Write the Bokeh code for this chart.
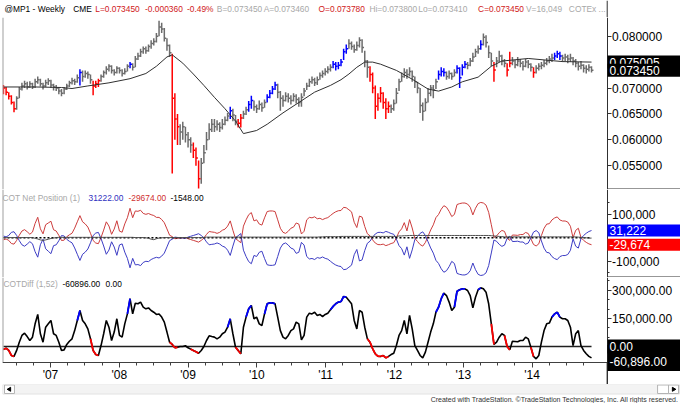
import numpy as np
from bokeh.plotting import figure
from bokeh.layouts import column
from bokeh.models import (Range1d, FixedTicker, NumeralTickFormatter, Label,
                          ColumnDataSource, CustomJSTickFormatter, LinearAxis)
from bokeh.embed import file_html
from bokeh.resources import INLINE
from bokeh.core.properties import value

FONT = "Liberation Sans"

# ---------------- data (bi-weekly samples, May 2006 .. Nov 2014) ----------------
# Mexican peso futures (@MP1), prices in units of 1e-5 USD
close_e5 = [
    7000, 6920, 6840, 6720, 6600, 6800, 6980, 7040, 7080, 7020,
    7080, 7020, 7120, 7160, 7080, 7040, 7100, 7140, 7060, 7020,
    7000, 6940, 6900, 6980, 7040, 7100, 7140, 7120, 7200, 7300,
    7220, 7280, 7260, 7160, 7040, 7080, 7140, 7220, 7300, 7360,
    7420, 7340, 7300, 7380, 7340, 7280, 7320, 7420, 7460, 7400,
    7560, 7620, 7700, 7760, 7720, 7800, 7860, 7900, 8000, 8180,
    8140, 7960, 7820, 7680, 6800, 6400, 6250, 6150, 6250, 6100,
    6000, 5900, 5800, 5650, 5250, 5550, 5750, 6000, 6200, 6300,
    6250, 6300, 6240, 6300, 6380, 6460, 6560, 6480, 6360, 6320,
    6420, 6500, 6580, 6680, 6760, 6640, 6600, 6680, 6620, 6720,
    6820, 6900, 6980, 7060, 6920, 6800, 6760, 6840, 6800, 6760,
    6840, 6780, 6720, 6820, 6940, 7040, 7120, 7160, 7100, 7160,
    7240, 7280, 7320, 7360, 7400, 7460, 7420, 7440, 7500, 7700,
    7760, 7860, 7800, 7740, 7820, 7920, 7780, 7520, 7400, 7260,
    7000, 6650, 6800, 6900, 6720, 6600, 6650, 6600, 6700, 6900,
    7120, 7220, 7300, 7260, 7320, 7220, 7120, 7000, 6660, 6550,
    6720, 6900, 7000, 6960, 7120, 7260, 7320, 7300, 7220, 7280,
    7220, 7300, 7380, 7200, 7400, 7460, 7440, 7520, 7600, 7700,
    7760, 7840, 7980, 7880, 7680, 7520, 7350, 7520, 7620, 7520,
    7480, 7350, 7480, 7520, 7450, 7520, 7480, 7420, 7500, 7460,
    7400, 7300, 7380, 7420, 7440, 7480, 7520, 7560, 7580, 7620,
    7660, 7620, 7580, 7600, 7560, 7580, 7520, 7480, 7420, 7440,
    7380, 7360, 7400, 7345,
]
high_e5 = [
    7060, 7020, 6920, 6860, 6740, 6840, 7020, 7100, 7140, 7120,
    7130, 7100, 7180, 7220, 7180, 7100, 7160, 7190, 7160, 7080,
    7060, 7020, 6980, 7020, 7080, 7140, 7200, 7180, 7260, 7360,
    7340, 7340, 7320, 7260, 7140, 7140, 7180, 7260, 7340, 7420,
    7460, 7440, 7360, 7420, 7400, 7360, 7380, 7460, 7500, 7480,
    7620, 7680, 7760, 7800, 7800, 7840, 7920, 7960, 8060, 8300,
    8260, 8160, 7960, 7840, 7660, 6900, 6500, 6300, 6350, 6250,
    6150, 6050, 5950, 5850, 5600, 5650, 5900, 6150, 6320, 6400,
    6400, 6380, 6340, 6400, 6450, 6520, 6640, 6600, 6480, 6400,
    6500, 6560, 6640, 6750, 6850, 6760, 6680, 6760, 6720, 6780,
    6880, 6960, 7040, 7120, 7080, 6940, 6860, 6920, 6900, 6860,
    6900, 6880, 6820, 6900, 7000, 7100, 7180, 7220, 7200, 7220,
    7300, 7340, 7380, 7420, 7460, 7520, 7500, 7500, 7560, 7760,
    7840, 7940, 7900, 7840, 7900, 7980, 7940, 7720, 7540, 7420,
    7300, 7050, 6900, 7020, 6920, 6800, 6740, 6680, 6780, 7000,
    7180, 7300, 7380, 7360, 7400, 7340, 7220, 7120, 7000, 6720,
    6800, 7000, 7060, 7060, 7180, 7340, 7400, 7380, 7320, 7340,
    7300, 7360, 7440, 7400, 7460, 7520, 7500, 7580, 7680, 7760,
    7820, 7920, 8050, 8020, 7820, 7680, 7500, 7600, 7720, 7640,
    7560, 7480, 7700, 7600, 7540, 7600, 7560, 7520, 7560, 7540,
    7480, 7400, 7440, 7480, 7500, 7540, 7580, 7620, 7660, 7680,
    7720, 7700, 7640, 7660, 7640, 7660, 7600, 7560, 7500, 7520,
    7460, 7440, 7460, 7420,
]
low_e5 = [
    6880, 6860, 6780, 6680, 6530, 6580, 6800, 6950, 7000, 6970,
    7000, 6980, 7000, 7080, 7030, 6970, 7020, 7060, 7000, 6950,
    6940, 6880, 6840, 6880, 6960, 7020, 7070, 7060, 7100, 7050,
    7120, 7200, 7180, 7080, 6860, 7000, 7020, 7120, 7200, 7260,
    7320, 7280, 7240, 7280, 7280, 7220, 7260, 7320, 7380, 7340,
    7400, 7540, 7600, 7660, 7660, 7700, 7760, 7820, 7880, 8000,
    8060, 7900, 7720, 7600, 5350, 6000, 5900, 5900, 6000, 5950,
    5850, 5750, 5650, 5500, 5060, 5150, 5550, 5800, 6000, 6150,
    6150, 6180, 6150, 6200, 6280, 6360, 6400, 6360, 6280, 6240,
    6240, 6400, 6480, 6540, 6600, 6560, 6520, 6580, 6540, 6620,
    6720, 6800, 6880, 6960, 6800, 6560, 6640, 6740, 6720, 6680,
    6740, 6700, 6640, 6640, 6840, 6960, 7020, 7080, 7040, 7060,
    7160, 7200, 7240, 7280, 7320, 7380, 7340, 7360, 7420, 7540,
    7660, 7760, 7740, 7680, 7720, 7780, 7680, 7400, 7200, 7120,
    6900, 6400, 6560, 6720, 6600, 6400, 6520, 6520, 6560, 6700,
    6940, 7120, 7200, 7180, 7220, 7120, 7000, 6900, 6520, 6370,
    6550, 6720, 6840, 6800, 6980, 7160, 7220, 7220, 7160, 7180,
    7160, 7220, 7280, 7000, 7240, 7380, 7360, 7420, 7500, 7600,
    7660, 7740, 7820, 7780, 7580, 7420, 7120, 7400, 7500, 7440,
    7400, 7220, 7400, 7440, 7380, 7420, 7400, 7340, 7400, 7380,
    7320, 7200, 7280, 7340, 7360, 7400, 7440, 7480, 7500, 7540,
    7580, 7540, 7500, 7520, 7480, 7500, 7440, 7400, 7340, 7360,
    7300, 7280, 7320, 7300,
]
# 52-week moving average, read at selected bars (bar index, value)
ma_idx = [0, 12, 22, 26, 32, 40, 48, 54, 58, 62, 64, 68, 72, 76, 80, 84, 88, 91,
          96, 100, 106, 112, 118, 124, 128, 131, 134, 137, 140, 143, 149, 155,
          161, 165, 170, 174, 180, 185, 189, 199, 212, 223]
ma_val = [0.0702, 0.0702, 0.0701, 0.0699, 0.0704, 0.0710, 0.0718, 0.0728, 0.0742,
          0.0760, 0.0764, 0.0748, 0.0727, 0.0705, 0.0682, 0.0660, 0.0636, 0.0612,
          0.0618, 0.0630, 0.0652, 0.0672, 0.0692, 0.0705, 0.0716, 0.0727, 0.0740,
          0.0750, 0.0750, 0.0746, 0.0734, 0.0717, 0.0698, 0.0694, 0.0702, 0.0712,
          0.0721, 0.0742, 0.0752, 0.0757, 0.0751, 0.075005]

# COTDiff (non-commercial net minus commercial net), thousands of contracts
cot_diff_k = [
    -16, -9, -21, -48, -53, -21, 23, 59, 71, 53,
    32, 50, 121, 171, 68, 23, 103, 121, 139, 68,
    59, 23, -21, -18, 11, 28, 41, 85, 139, 192,
    139, 121, 94, 41, -21, -43, -48, 5, 68, 139,
    103, 32, 77, 148, 59, 50, 121, 174, 255, 174,
    231, 228, 237, 210, 201, 206, 192, 183, 171, 174,
    157, 130, 77, 23, 11, -7, -4, 0, 0, 4,
    -7, -14, -21, -28, -36, -21, 0, 32, 57, 53,
    50, 41, 50, 68, 77, 103, 148, 68, -4, -21,
    -39, 103, 157, 201, 219, 148, 157, 121, 112, 174,
    228, 233, 233, 228, 157, 85, 50, 41, 59, 85,
    94, 130, 121, 36, 59, 157, 178, 174, 183, 166,
    171, 160, 171, 178, 196, 214, 228, 237, 240, 267,
    263, 246, 228, 139, 94, 192, 183, 103, 41, 23,
    -12, -39, -52, -53, -48, -61, -53, -43, -36, 5,
    59, 85, 139, 68, 166, 94, 5, -21, -48, -61,
    -30, 23, 77, 121, 183, 210, 255, 285, 272, 237,
    192, 210, 295, 303, 308, 308, 299, 272, 206, 263,
    303, 313, 308, 290, 228, 121, 11, 23, 50, 68,
    59, 0, -18, 28, 27, 25, 32, 32, 50, 41,
    -4, -53, -66, -48, 23, 85, 121, 125, 157, 174,
    183, 157, 148, 148, 139, 103, 5, 68, 85, 5,
    -21, -39, -53, -60.896,
]
# third COT group net position (small traders), thousands of contracts
small_net_k = [
    1, 1, 1, 1, 1, 1, 1, 1, 1, 1,
    1, 1, -2, -5, -9, -11, -9, -6, -3, -1,
    1, 2, 2, 2, 2, 2, 2, 2, 2, 2,
    2, 2, 2, 2, 2, 2, 2, 2, 2, 2,
    2, 2, 2, 2, 2, 2, 2, 2, 2, 2,
    1, 1, 1, 1, 0, -2, -6, -8, -4, -1,
    0, 1, 1, 1, 1, 1, 1, 1, 1, 1,
    1, 1, 1, 1, 1, 1, 2, 3, 3, 3,
    3, 3, 3, 3, 3, 3, 3, 3, 3, 3,
    3, 3, 3, 3, 3, 3, 3, 3, 3, 3,
    3, 3, 3, 3, 3, 3, 3, 3, 3, 3,
    3, 3, 3, 3, 3, 3, 3, 3, 3, 3,
    4, 4, 5, 5, 5, 5, 5, 5, 6, 6,
    6, 6, 6, 6, 6, 6, 6, 6, 6, 6,
    6, 6, 6, 6, 6, 6, 6, 6, 6, 6,
    8, 8, 9, 9, 10, 10, 10, 10, 10, 10,
    10, 10, 10, 10, 10, 10, 10, 10, 10, 10,
    10, 10, 10, 10, 10, 10, 10, 10, 10, 10,
    10, 10, 10, 10, 10, 9, 8, 7, 6, 5,
    4, 4, 4, 4, 4, 4, 4, 4, 4, 4,
    4, 4, 4, 4, 4, 4, 4, 4, 4, 4,
    4, 4, 4, 4, 4, 4, 4, 4, 3, 2,
    1, 0, -1, -1.548,
]
# COTEx signal bars: COTDiff at a 52-week high (blue) / low (red)
signal_hi = [29, 48, 86, 93, 94, 100, 101, 102, 103, 125, 126, 127, 128, 129, 130,
             165, 166, 167, 172, 173, 174, 175, 181, 209, 210, 211]
signal_lo = [0, 1, 2, 3, 4, 34, 35, 36, 64, 65, 66, 72, 73, 74, 89, 90,
             139, 140, 141, 142, 143, 144, 145, 146, 186, 191, 192, 201]
year_ticks = [2007, 2008, 2009, 2010, 2011, 2012, 2013, 2014]
price_ticks = [0.055, 0.060, 0.065, 0.070, 0.075, 0.080]
cot_ticks = [-100000, 100000]
diff_ticks = [0, 150000, 300000]

hdr_text = ["@MP1 - Weekly", "CME", "L=0.073450", "-0.000360", "-0.49%", "B=0.073450",
            "A=0.073460", "O=0.073780", "Hi=0.073800", "Lo=0.073410", "C=0.073450",
            "V=16,049", "COTEx ..."]

# ---------------- derived ----------------
n = len(close_e5)
xs = 2006.317 + np.arange(n) * (2 / 52.18)
close = np.array(close_e5) / 1e5
high = np.array(high_e5) / 1e5
low = np.array(low_e5) / 1e5
diff = np.array(cot_diff_k, dtype=float) * 1000
small = np.array(small_net_k, dtype=float) * 1000
comm = -(diff + small) / 2       # blue line
noncomm = (diff - small) / 2     # red line

GREY = "#6c6c6c"
BLUE = "#0000ff"
RED = "#ff0000"
colors = [GREY] * n
for i in signal_hi:
    colors[i] = BLUE
for i in signal_lo:
    colors[i] = RED

# ---------------- geometry ----------------
PX_YR = 68.8
X0 = 2006.303


def px2yr(px):
    return X0 + (px - 2) / PX_YR


x_range = Range1d(X0, px2yr(680))
AX = px2yr(606.6)          # location of the right value axis
BOX_X = px2yr(643.5)       # centre of the value boxes
TXT_X = px2yr(609)


def panel(h, yr):
    p = figure(width=680, height=h, x_range=x_range, y_range=yr,
               output_backend="svg", toolbar_location=None, title=None,
               x_axis_type=None, y_axis_type=None,
               min_border_left=2, min_border_right=0, min_border_top=0,
               min_border_bottom=0, background_fill_color="white",
               border_fill_color="white", outline_line_color=None)
    p.grid.visible = False
    return p


def right_axis(p, ticker, formatter):
    ax = LinearAxis(fixed_location=AX, ticker=ticker, formatter=formatter)
    ax.major_label_text_font = FONT
    ax.major_label_text_font_size = "12px"
    ax.major_label_text_color = "black"
    ax.major_tick_out = 4
    ax.major_tick_in = 0
    ax.minor_tick_out = 2
    ax.minor_tick_in = 0
    ax.major_label_standoff = 1
    ax.axis_line_color = "#303030"
    ax.major_tick_line_color = "#303030"
    ax.minor_tick_line_color = "#303030"
    p.add_layout(ax, "right")


def box(p, y, bg, h=13):
    p.rect(x=[BOX_X], y=[y], width=73, height=h, width_units="screen",
           height_units="screen", fill_color=bg, line_color=None, level="annotation")


def box_text(p, y, text, dy=0):
    p.text(x=[TXT_X], y=[y], text=[text], text_color="white", text_font=value(FONT),
           text_font_size="12px", text_baseline="middle", text_align="left",
           y_offset=dy, level="annotation")


def value_box(p, y, text, bg, h=13, dy=0):
    box(p, y, bg, h)
    box_text(p, y, text, dy)


def panel_label(p, x, y, text, color):
    p.add_layout(Label(x=x - 2, y=y, x_units="screen", y_units="screen", text=text,
                       text_color=color, text_font=FONT, text_font_size="8.4px",
                       text_baseline="middle"))


# ---------------- header ----------------
hdr_x = [2, 71, 93, 143, 185, 215, 262, 317, 368, 417, 477, 525, 568]
hdr_col = ["#000000", "#000000", "#d01818", "#d01818", "#d01818", "#a8a8a8", "#a8a8a8",
           "#d01818", "#a8a8a8", "#a8a8a8", "#d01818", "#a8a8a8", "#a8a8a8"]
hdr = figure(width=680, height=17, x_range=Range1d(0, 680), y_range=Range1d(0, 17),
             output_backend="svg", toolbar_location=None, title=None,
             x_axis_type=None, y_axis_type=None, min_border=0,
             outline_line_color=None, background_fill_color="white",
             border_fill_color="white")
hdr.grid.visible = False
hdr.text(x=hdr_x, y=[9] * len(hdr_x), text=hdr_text, text_color=hdr_col,
         text_font=value(FONT), text_font_size="8.4px", text_baseline="middle",
         text_align="left")
hdr.segment(x0=[606.5], y0=[0], x1=[606.5], y1=[17], line_color="#303030", line_width=1)

# ---------------- price panel ----------------
p1 = panel(172, Range1d(0.05041, 0.08361))
right_axis(p1, FixedTicker(ticks=price_ticks, minor_ticks=[]),
           NumeralTickFormatter(format="0.000000"))
src = ColumnDataSource(dict(x=xs, xc=xs + 0.028, hi=high, lo=low, c=close, color=colors))
p1.segment(x0="x", y0="lo", x1="x", y1="hi", line_color="color", line_width=1.5, source=src)
p1.segment(x0="x", y0="c", x1="xc", y1="c", line_color="color", line_width=1.5, source=src)
p1.line(xs[ma_idx], ma_val, line_color="#303030", line_width=1)
p1.segment(x0=[X0], y0=[0.05041], x1=[X0], y1=[0.08361], line_color="#a0a0a0", line_width=2)
p1.segment(x0=[AX], y0=[0.05041], x1=[px2yr(680)], y1=[0.05041], line_color="#303030",
           line_width=2)
value_box(p1, ma_val[-1], "0.075005", "black")
value_box(p1, close[-1], "0.073450", "black")

# ---------------- COT net position panel ----------------
p2 = panel(88, Range1d(-170000, 206900))
right_axis(p2, FixedTicker(ticks=cot_ticks, minor_ticks=[-150000, -50000, 50000, 150000]),
           NumeralTickFormatter(format="0,0"))
p2.line(xs, noncomm, line_color="#cc3c3c", line_width=1)
p2.line(xs, comm, line_color="#3c3cc4", line_width=1)
p2.line([xs[0], xs[-1]], [0, 0], line_color="#000000", line_width=1.5, line_dash="2 2")
p2.line(xs, small, line_color="#505050", line_width=1)
p2.segment(x0=[X0], y0=[-170000], x1=[X0], y1=[206900], line_color="#a0a0a0", line_width=2)
p2.segment(x0=[AX], y0=[-170000], x1=[px2yr(680)], y1=[-170000], line_color="#303030",
           line_width=2)
panel_label(p2, 2, 80, "COT Net Position (1)", "#a8a8a8")
panel_label(p2, 88, 80, "%.2f" % comm[-1], "#3030c0")
panel_label(p2, 128, 80, "%.2f" % noncomm[-1], "#d03030")
panel_label(p2, 170, 80, "%.2f" % small[-1], "#000000")
value_box(p2, comm[-1], "{:,.0f}".format(comm[-1]), BLUE, h=12)
value_box(p2, noncomm[-1], "{:,.0f}".format(noncomm[-1]), RED, h=12)

# ---------------- COTDiff panel (includes the date axis strip) ----------------
D_TOP, D_BOT, D_AXIS = 368400, -202900, -85400
p3 = panel(107, Range1d(D_BOT, D_TOP))
right_axis(p3, FixedTicker(ticks=diff_ticks,
                           minor_ticks=[50000, 100000, 200000, 250000, 350000]),
           NumeralTickFormatter(format="0,0.00"))
p3.line([xs[0], xs[-1]], [0, 0], line_color="#202020", line_width=1.6)
p3.line(xs, diff, line_color="#000000", line_width=1.6)
seg = [i for i in range(1, n) if colors[i] != GREY]
p3.segment(x0=xs[[i - 1 for i in seg]], y0=diff[[i - 1 for i in seg]],
           x1=xs[seg], y1=diff[seg], line_color=[colors[i] for i in seg], line_width=1.8)
p3.segment(x0=[X0], y0=[D_AXIS], x1=[X0], y1=[D_TOP], line_color="#a0a0a0", line_width=2)
p3.segment(x0=[AX], y0=[D_BOT], x1=[AX], y1=[D_AXIS], line_color="#303030", line_width=1)
panel_label(p3, 3, 101, "COTDiff (1,52)", "#a8a8a8")
panel_label(p3, 62, 101, "%.2f" % diff[-1], "#000000")
panel_label(p3, 105, 101, "0.00", "#000000")
box(p3, diff[-1], "black", h=26)
box(p3, 0, "black", h=14)
box_text(p3, 0, "0.00")
box_text(p3, diff[-1], "{:,.2f}".format(diff[-1]), dy=4)

quarters = [y + q / 4.0 for y in range(2006, 2016) for q in (1, 2, 3)]
xa = LinearAxis(fixed_location=D_AXIS, bounds=(X0, AX),
                ticker=FixedTicker(ticks=year_ticks, minor_ticks=quarters),
                formatter=CustomJSTickFormatter(
                    code="var y = Math.round(tick) % 100; return \"'\" + (y < 10 ? '0' + y : '' + y);"))
xa.major_label_text_font = FONT
xa.major_label_text_font_size = "12px"
xa.major_label_text_color = "black"
xa.major_tick_out = 5
xa.major_tick_in = 0
xa.minor_tick_out = 3
xa.minor_tick_in = 0
xa.major_label_standoff = 1
xa.axis_line_color = "#404040"
xa.major_tick_line_color = "#404040"
xa.minor_tick_line_color = "#404040"
p3.add_layout(xa, "below")

# ---------------- footer ----------------
ftr = figure(width=680, height=19, x_range=Range1d(0, 680), y_range=Range1d(0, 19),
             output_backend="svg", toolbar_location=None, title=None,
             x_axis_type=None, y_axis_type=None, min_border=0,
             outline_line_color=None, background_fill_color="white",
             border_fill_color="white")
ftr.grid.visible = False
ftr.quad(left=[0], right=[679], bottom=[9.5], top=[19], fill_color="#f3f3f3",
         line_color="#e2e2e2")
ftr.quad(left=[2, 657, 668], right=[12, 668, 678], bottom=[10] * 3, top=[18.5] * 3,
         fill_color="white", line_color="#b4b4b4")
ftr.scatter(x=[7, 673], y=[14.2, 14.2], marker="triangle", size=4,
            angle=[np.pi / 2, -np.pi / 2], fill_color="black", line_color="black")
ftr.text(x=[678], y=[4.5],
         text=["Created with TradeStation. \u00a9TradeStation Technologies, Inc. All rights reserved."],
         text_color="#333333", text_font=value(FONT), text_font_size="7px",
         text_baseline="middle", text_align="right")

layout = column(hdr, p1, p2, p3, ftr, spacing=0)
open("out.html", "w").write(file_html(layout, INLINE))
